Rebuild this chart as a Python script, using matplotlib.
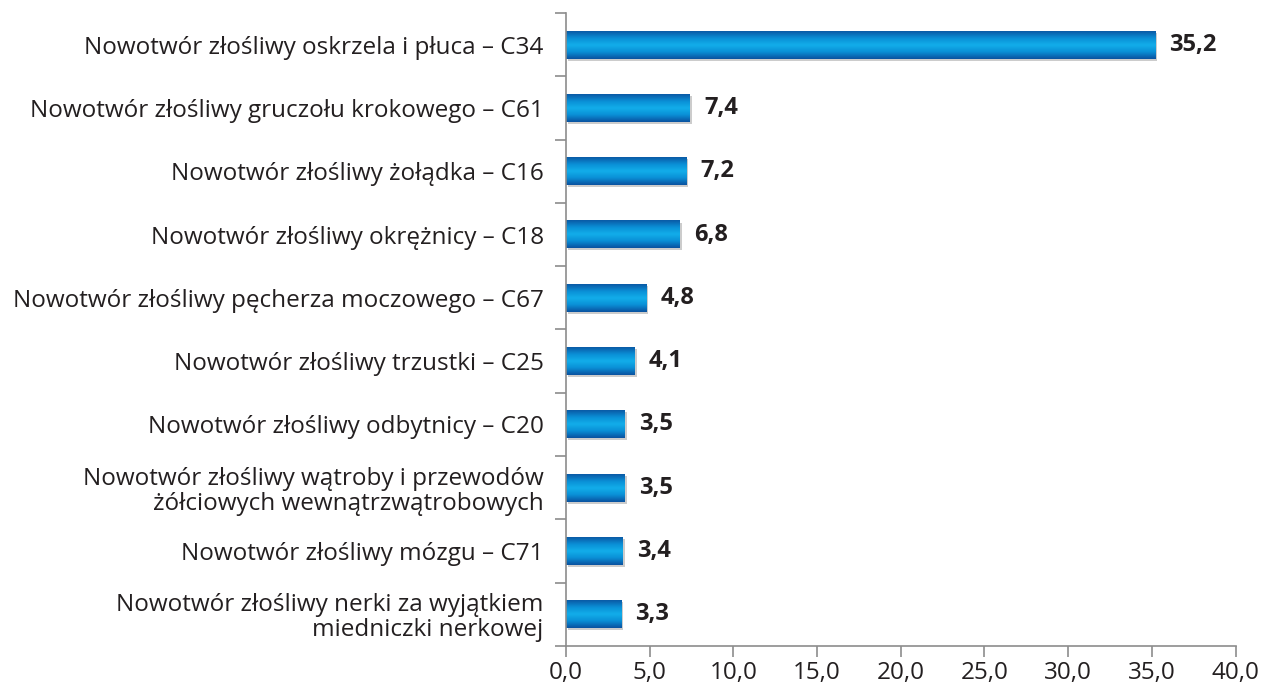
import numpy as np
import matplotlib.pyplot as plt
from matplotlib.colors import LinearSegmentedColormap
import matplotlib.transforms as mtransforms

plt.rcParams['font.family'] = ['Open Sans', 'DejaVu Sans']

categories = [
    "Nowotwór złośliwy oskrzela i płuca – C34",
    "Nowotwór złośliwy gruczołu krokowego – C61",
    "Nowotwór złośliwy żołądka – C16",
    "Nowotwór złośliwy okrężnicy – C18",
    "Nowotwór złośliwy pęcherza moczowego – C67",
    "Nowotwór złośliwy trzustki – C25",
    "Nowotwór złośliwy odbytnicy – C20",
    "Nowotwór złośliwy wątroby i przewodów\nżółciowych wewnątrzwątrobowych",
    "Nowotwór złośliwy mózgu – C71",
    "Nowotwór złośliwy nerki za wyjątkiem\nmiedniczki nerkowej",
]
values = [35.2, 7.4, 7.2, 6.8, 4.8, 4.1, 3.5, 3.5, 3.4, 3.3]
xticks = [0, 5, 10, 15, 20, 25, 30, 35, 40]

fig = plt.figure(figsize=(12.66, 6.9), dpi=100)
ax = fig.add_axes([0.447, 0.064, 0.529, 0.917])

n = len(categories)
y = np.arange(n)
h = 0.44

# blue gradient: dark edges, bright middle
cmap = LinearSegmentedColormap.from_list(
    "bar", ["#0a5aa6", "#0a8fd6", "#12aeea", "#0a8fd6", "#0a52a0"])
grad = np.linspace(0, 1, 64).reshape(-1, 1)

# shadow
shadow_off = mtransforms.offset_copy(ax.transData, fig=fig, x=2, y=-2, units='dots')
ax.barh(y, values, height=h, color="#9a9a9a", alpha=0.5, transform=shadow_off, zorder=1)

bars = ax.barh(y, values, height=h, color="none", zorder=2)
for b in bars:
    x0, y0 = b.get_x(), b.get_y()
    w, hh = b.get_width(), b.get_height()
    ax.imshow(grad, cmap=cmap, aspect='auto', extent=[x0, x0 + w, y0 + hh, y0],
              zorder=2, interpolation='bicubic')

for yi, v in zip(y, values):
    ax.text(v + 0.85, yi, f"{v:.1f}".replace(".", ","), va='center', ha='left',
            fontsize=17, fontweight='bold', color="#231f20")

ax.set_xlim(0, 40)
ax.set_ylim(n - 0.5, -0.5)
ax.set_xticks(xticks)
ax.set_xticklabels([f"{t:.1f}".replace(".", ",") for t in xticks], fontsize=17.5,
                   color="#231f20")
ax.set_yticks(y)
ax.set_yticklabels(categories, fontsize=17.5, color="#231f20", ha='right',
                   linespacing=1.05)
ax.set_yticks(np.arange(n + 1) - 0.5, minor=True)
ax.tick_params(axis='y', which='major', length=0, pad=16)
ax.tick_params(axis='y', which='minor', length=8, color="#8c8c8c", width=1.2)
ax.tick_params(axis='x', length=8, color="#8c8c8c", width=1.2, pad=3)

for s in ['top', 'right']:
    ax.spines[s].set_visible(False)
for s in ['left', 'bottom']:
    ax.spines[s].set_color("#8c8c8c")
    ax.spines[s].set_linewidth(1.2)

fig.savefig("out.png", dpi=100)
